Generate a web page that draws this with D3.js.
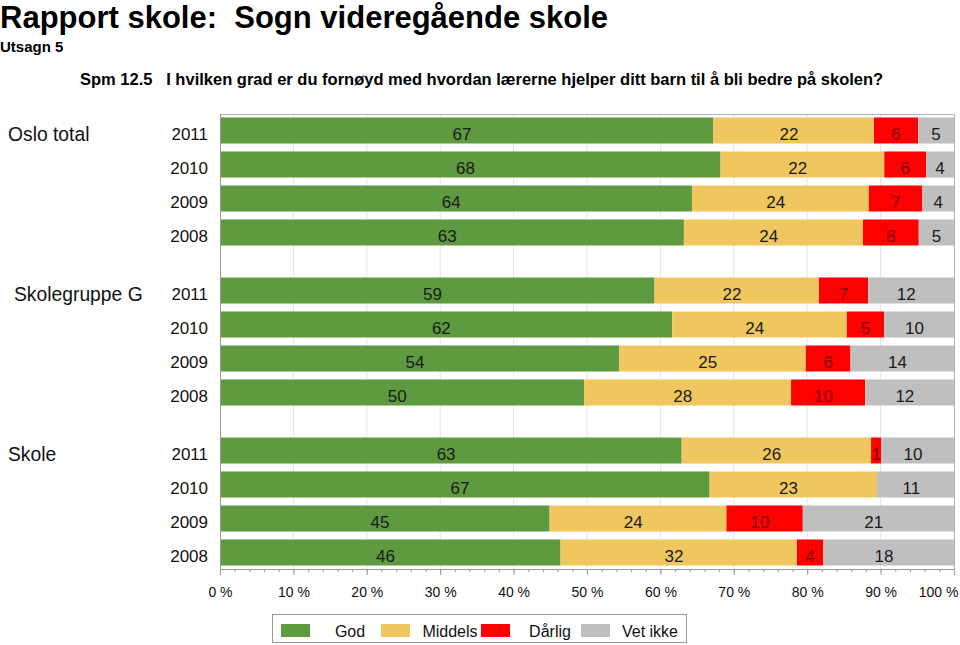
<!DOCTYPE html>
<html><head><meta charset="utf-8">
<script src="https://cdn.jsdelivr.net/npm/d3@7"></script>
<style>body{margin:0;background:#fff}svg{display:block;font-family:"Liberation Sans",Arial,sans-serif}</style>
</head><body><svg id="c" width="960" height="645"></svg>
<script>
const groups = ["Oslo total", "Skolegruppe G", "Skole"];
const years = ["2011", "2010", "2009", "2008"];
const seriesNames = ["God", "Middels", "Dårlig", "Vet ikke"];
const seriesColors = ["#5d9a40", "#efc75e", "#ff0000", "#bfbfbf"];
const labelColors = ["#1a1a1a", "#1a1a1a", "#7a0000", "#1a1a1a"];
// values per group, per year (2011..2008): [God, Middels, Dårlig, Vet ikke]
const osloTotal = [[67.2, 21.9, 6.0, 4.9], [68.2, 22.3, 5.7, 3.8], [64.3, 24.1, 7.3, 4.3], [63.2, 24.4, 7.6, 4.8]];
const skolegruppeG = [[59.2, 22.4, 6.7, 11.7], [61.6, 23.8, 5.1, 9.5], [54.4, 25.4, 6.1, 14.1], [49.6, 28.2, 10.1, 12.1]];
const skole = [[62.9, 25.8, 1.4, 9.9], [66.7, 22.8, 0, 10.5], [44.9, 24.1, 10.4, 20.6], [46.4, 32.2, 3.6, 17.8]];
const groupData = [osloTotal, skolegruppeG, skole];
const xTicks = [0, 10, 20, 30, 40, 50, 60, 70, 80, 90, 100];

const svg = d3.select("#c");
const L = 220, R = 954, T = 114, B = 569;

const x = d3.scaleLinear().domain([0, 100]).range([L, R]);
const yG = d3.scaleBand().domain(groups).range([T, B]).paddingInner(0.15625).paddingOuter(0);
const yY = d3.scaleBand().domain(years).range([0, yG.bandwidth()]).paddingInner(0.235).paddingOuter(0.103);

// titles
svg.append("text").attr("x", 0).attr("y", 28).attr("font-size", 31).attr("font-weight", "bold")
  .style("white-space", "pre").text("Rapport skole:  Sogn videregående skole");
svg.append("text").attr("x", 0).attr("y", 52).attr("font-size", 15).attr("font-weight", "bold").text("Utsagn 5");
svg.append("text").attr("x", 80).attr("y", 85).attr("font-size", 16.5).attr("font-weight", "bold")
  .style("white-space", "pre")
  .text("Spm 12.5   I hvilken grad er du fornøyd med hvordan lærerne hjelper ditt barn til å bli bedre på skolen?");

// gridlines
svg.append("g").selectAll("line").data(xTicks.slice(1, -1)).join("line")
  .attr("x1", d => x(d)).attr("x2", d => x(d)).attr("y1", T).attr("y2", B)
  .attr("stroke", "#e4e4e4").attr("stroke-width", 1);

// frame (top and right)
svg.append("path").attr("d", `M${L},${T + 0.5}H${R + 0.5}V${B}`).attr("fill", "none").attr("stroke", "#b0b0b0");

const VF = 17;
// bars
groups.forEach((g, gi) => {
  const gy = yG(g);
  years.forEach((yr, yi) => {
    const vals = groupData[gi][yi];
    const by = gy + yY(yr);
    const h = yY.bandwidth();
    let cum = 0;
    vals.forEach((v, si) => {
      const x0 = x(cum), x1 = x(cum + v);
      cum += v;
      if (v <= 0) return;
      svg.append("rect").attr("x", x0).attr("y", by).attr("width", x1 - x0).attr("height", h)
        .attr("fill", seriesColors[si]);
      svg.append("text").attr("x", (x0 + x1) / 2 + VF * 0.278).attr("y", by + h / 2 + 3).attr("dy", "0.36em")
        .attr("text-anchor", "end").attr("font-size", VF).attr("fill", labelColors[si])
        .text(Math.round(v));
    });
    svg.append("text").attr("x", 208).attr("y", by + h / 2 + 3).attr("dy", "0.36em")
      .attr("text-anchor", "end").attr("font-size", VF).attr("fill", "#111").text(yr);
  });
  const gx = gi === 1 ? 14 : 8;
  svg.append("text").attr("x", gx).attr("y", gy + yY(years[0]) + yY.bandwidth() / 2 + 4).attr("dy", "0.36em")
    .attr("font-size", 19.3).attr("fill", "#111").text(g);
});

// y axis line
svg.append("line").attr("x1", L + 0.5).attr("x2", L + 0.5).attr("y1", T).attr("y2", B)
  .attr("stroke", "#999");

// x axis
const minor = d3.range(0, 101, 2);
svg.append("g").attr("transform", `translate(0,${B})`)
  .call(d3.axisBottom(x).tickValues(minor).tickSize(3).tickFormat(""))
  .call(g => g.select(".domain").attr("stroke", "#999"))
  .call(g => g.selectAll(".tick line").attr("stroke", "#999"));
const ax = svg.append("g").attr("transform", `translate(0,${B})`)
  .call(d3.axisBottom(x).tickValues(xTicks).tickSize(6).tickPadding(12).tickFormat(d => d + " %"));
ax.attr("font-size", null).attr("font-family", null);
ax.select(".domain").attr("stroke", "#999");
ax.selectAll(".tick line").attr("stroke", "#999");
ax.selectAll(".tick text").style("font-size", "14px").attr("fill", "#111")
  .style("font-family", "'Liberation Sans', Arial, sans-serif");
ax.selectAll(".tick text").filter(d => d === 100).attr("text-anchor", "end").attr("x", 4);

// legend
const lg = svg.append("g");
lg.append("rect").attr("x", 272.5).attr("y", 614.5).attr("width", 414).attr("height", 28)
  .attr("fill", "#fff").attr("stroke", "#999");
seriesNames.forEach((n, i) => {
  const lx = 281 + i * 100;
  lg.append("rect").attr("x", lx).attr("y", 624).attr("width", 29).attr("height", 13).attr("fill", seriesColors[i]);
  lg.append("text").attr("x", lx + 69).attr("y", 631).attr("dy", "0.36em").attr("text-anchor", "middle")
    .attr("font-size", 16).attr("fill", "#111").text(n);
});
</script></body></html>
